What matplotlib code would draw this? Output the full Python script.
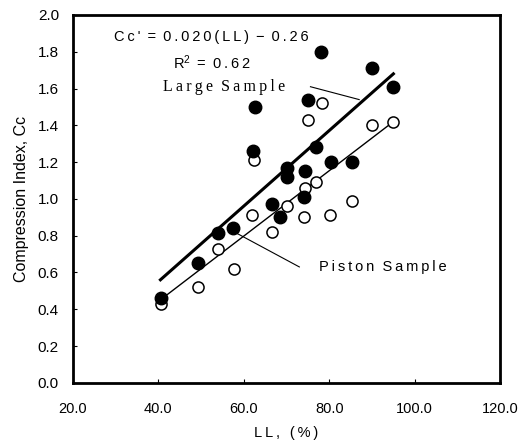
import matplotlib
matplotlib.use('agg')
import matplotlib.pyplot as plt

# data
ll_large = [40.7, 49.3, 54.0, 57.4, 62.6, 62.1, 66.7, 68.4, 70.0, 70.0,
            74.4, 74.2, 77.0, 75.1, 78.1, 80.5, 85.3, 90.0, 94.9]
cc_large = [0.46, 0.65, 0.815, 0.84, 1.50, 1.26, 0.97, 0.90, 1.17, 1.12,
            1.15, 1.01, 1.28, 1.54, 1.80, 1.20, 1.20, 1.71, 1.61]
ll_piston = [40.7, 49.3, 54.0, 57.7, 61.9, 62.3, 66.5, 70.2, 74.4, 77.0,
             74.0, 80.2, 85.3, 75.1, 78.4, 90.0, 94.9]
cc_piston = [0.43, 0.52, 0.73, 0.62, 0.91, 1.21, 0.82, 0.96, 1.06, 1.09,
             0.90, 0.91, 0.99, 1.43, 1.52, 1.40, 1.42]

# fitted lines (end points)
fit_large_x = [40.5, 95.0]
fit_large_y = [0.56, 1.68]
fit_piston_x = [41.0, 95.0]
fit_piston_y = [0.46, 1.42]

xticks = [20, 40, 60, 80, 100, 120]
yticks = [0.0, 0.2, 0.4, 0.6, 0.8, 1.0, 1.2, 1.4, 1.6, 1.8, 2.0]

plt.rcParams['font.family'] = ['Liberation Sans', 'DejaVu Sans']
plt.rcParams['mathtext.default'] = 'regular'


def spaced(s):
    # the original text is letter-spaced
    return '\u2009'.join(s)


fig = plt.figure(figsize=(5.2, 4.41), dpi=100)
ax = fig.add_axes([0.140, 0.132, 0.822, 0.834])

ax.plot(fit_large_x, fit_large_y, color='black', lw=2.2, zorder=2)
ax.plot(fit_piston_x, fit_piston_y, color='black', lw=1.0, zorder=2)
ax.plot(ll_piston, cc_piston, 'o', ms=8.0, mfc='white', mec='black', mew=1.1, zorder=3)
ax.plot(ll_large, cc_large, 'o', ms=9.0, mfc='black', mec='black', zorder=4)

ax.set_xlim(20, 120)
ax.set_ylim(0, 2.0)
ax.set_xticks(xticks)
ax.set_xticklabels(['%.1f' % v for v in xticks])
ax.set_yticks(yticks)
ax.set_yticklabels(['%.1f' % v for v in yticks])
ax.tick_params(direction='in', length=3, width=0.8, labelsize=11)
ax.tick_params(axis='x', pad=14, labelsize=10.5)
ax.tick_params(axis='y', pad=10)
for s in ax.spines.values():
    s.set_linewidth(2.0)

ax.set_xlabel(spaced('LL, (%)'), fontsize=10.5, labelpad=7)
ax.set_ylabel('Compression Index, Cc', fontsize=11.5, labelpad=6)

ax.text(52.5, 1.88, spaced("Cc'") + '\u2009 = \u2009' + spaced('0.020(LL)') + ' \u2009−\u2009 '
        + spaced('0.26'), fontsize=10.5, ha='center', va='center')
ax.text(52.5, 1.74, 'R$^2$\u2009 = \u2009' + spaced('0.62'), fontsize=10.5,
        ha='center', va='center')
ax.text(55.5, 1.61, spaced('Large') + '  ' + spaced('Sample'), fontsize=11.5,
        ha='center', va='center', family='Liberation Serif')
ax.plot([75.6, 87.0], [1.61, 1.54], color='black', lw=0.8)

ax.text(77.5, 0.63, spaced('Piston') + '  ' + spaced('Sample'), fontsize=10.5,
        ha='left', va='center')
ax.plot([58.6, 73.0], [0.81, 0.63], color='black', lw=0.8)

fig.savefig('out.png', dpi=100)
